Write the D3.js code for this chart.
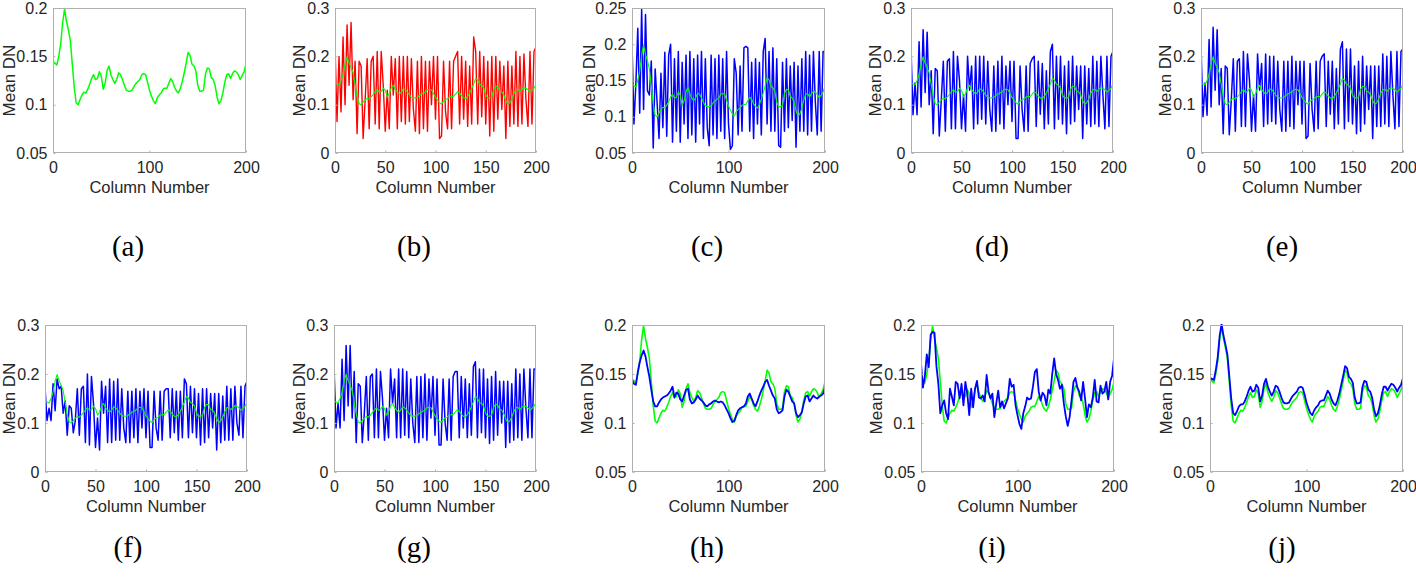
<!DOCTYPE html>
<html><head><meta charset="utf-8">
<script src="https://cdn.jsdelivr.net/npm/d3@7"></script>
<style>body{margin:0;background:#fff}svg{display:block}</style>
</head><body><svg id="c" width="1416" height="585"></svg>
<script>
// ---- data: values sampled every 2 columns (columns 0..200) ----
const greenRef = [0.145,0.143,0.141,0.150,0.163,0.185,0.199,0.186,0.177,0.166,0.142,0.118,0.102,0.100,0.105,0.110,0.113,0.112,0.116,0.121,0.127,0.131,0.126,0.127,0.134,0.130,0.116,0.122,0.135,0.140,0.131,0.126,0.122,0.126,0.133,0.131,0.126,0.120,0.115,0.114,0.114,0.115,0.119,0.122,0.124,0.126,0.131,0.132,0.131,0.123,0.115,0.109,0.104,0.101,0.107,0.110,0.112,0.116,0.117,0.117,0.122,0.127,0.124,0.118,0.114,0.112,0.117,0.124,0.133,0.143,0.154,0.151,0.142,0.140,0.135,0.120,0.114,0.114,0.115,0.132,0.138,0.137,0.128,0.126,0.120,0.108,0.101,0.104,0.112,0.123,0.131,0.132,0.127,0.132,0.135,0.134,0.131,0.126,0.130,0.134,0.142];
const redB = [0.225,0.065,0.20,0.085,0.24,0.10,0.265,0.14,0.27,0.11,0.19,0.04,0.19,0.18,0.03,0.11,0.195,0.05,0.19,0.20,0.06,0.21,0.05,0.21,0.14,0.045,0.13,0.05,0.20,0.12,0.195,0.05,0.20,0.065,0.20,0.06,0.20,0.065,0.195,0.09,0.045,0.19,0.04,0.20,0.05,0.19,0.045,0.19,0.10,0.20,0.07,0.20,0.03,0.035,0.19,0.085,0.05,0.19,0.05,0.19,0.20,0.21,0.06,0.20,0.07,0.19,0.055,0.18,0.06,0.24,0.21,0.06,0.21,0.075,0.20,0.06,0.19,0.035,0.20,0.045,0.20,0.07,0.19,0.09,0.18,0.03,0.19,0.055,0.18,0.06,0.21,0.055,0.20,0.06,0.205,0.11,0.055,0.21,0.06,0.21,0.22];
const blueC = [0.202,0.09,0.145,0.222,0.105,0.248,0.11,0.241,0.136,0.13,0.177,0.057,0.166,0.12,0.07,0.16,0.085,0.189,0.073,0.185,0.20,0.065,0.18,0.08,0.19,0.065,0.175,0.09,0.185,0.07,0.19,0.075,0.18,0.065,0.185,0.09,0.19,0.07,0.18,0.085,0.06,0.185,0.075,0.18,0.07,0.185,0.08,0.18,0.07,0.19,0.09,0.055,0.06,0.18,0.16,0.075,0.17,0.08,0.195,0.197,0.195,0.08,0.175,0.07,0.18,0.09,0.175,0.075,0.19,0.208,0.09,0.19,0.08,0.195,0.08,0.18,0.06,0.058,0.175,0.08,0.18,0.085,0.17,0.095,0.175,0.058,0.17,0.08,0.18,0.08,0.19,0.075,0.185,0.08,0.19,0.12,0.075,0.19,0.08,0.19,0.19];
const blueD = [0.215,0.079,0.145,0.079,0.23,0.095,0.255,0.125,0.25,0.10,0.17,0.04,0.175,0.17,0.035,0.11,0.19,0.045,0.19,0.195,0.05,0.21,0.05,0.20,0.15,0.05,0.12,0.045,0.20,0.13,0.18,0.05,0.20,0.06,0.20,0.07,0.20,0.06,0.19,0.09,0.045,0.18,0.045,0.19,0.06,0.20,0.05,0.18,0.10,0.19,0.065,0.19,0.03,0.03,0.18,0.09,0.045,0.18,0.045,0.185,0.195,0.20,0.055,0.19,0.08,0.185,0.05,0.17,0.06,0.21,0.225,0.05,0.20,0.07,0.20,0.06,0.18,0.04,0.19,0.06,0.20,0.065,0.18,0.09,0.18,0.03,0.18,0.06,0.175,0.055,0.20,0.06,0.19,0.055,0.20,0.12,0.05,0.20,0.055,0.20,0.21];
const blueE = [0.22,0.075,0.145,0.078,0.235,0.095,0.26,0.13,0.255,0.10,0.175,0.04,0.18,0.175,0.038,0.11,0.195,0.045,0.19,0.195,0.055,0.21,0.055,0.205,0.15,0.045,0.12,0.045,0.205,0.13,0.185,0.055,0.205,0.06,0.20,0.065,0.20,0.06,0.19,0.09,0.045,0.19,0.045,0.19,0.055,0.20,0.05,0.19,0.10,0.19,0.06,0.19,0.03,0.035,0.185,0.09,0.045,0.19,0.05,0.19,0.20,0.205,0.055,0.19,0.08,0.19,0.05,0.175,0.06,0.215,0.23,0.05,0.215,0.065,0.215,0.06,0.18,0.04,0.19,0.045,0.20,0.06,0.18,0.09,0.18,0.03,0.18,0.055,0.18,0.055,0.205,0.06,0.20,0.055,0.21,0.12,0.05,0.21,0.055,0.21,0.215];
const blueF = [0.173,0.105,0.13,0.105,0.18,0.125,0.19,0.17,0.175,0.12,0.145,0.075,0.135,0.13,0.08,0.105,0.17,0.075,0.17,0.175,0.06,0.20,0.055,0.195,0.14,0.05,0.11,0.045,0.185,0.12,0.175,0.06,0.19,0.06,0.185,0.065,0.19,0.065,0.17,0.09,0.06,0.165,0.06,0.165,0.07,0.17,0.06,0.165,0.09,0.17,0.07,0.165,0.05,0.05,0.165,0.09,0.065,0.165,0.065,0.165,0.17,0.17,0.07,0.17,0.08,0.165,0.065,0.165,0.07,0.19,0.18,0.07,0.175,0.08,0.17,0.07,0.16,0.055,0.17,0.06,0.17,0.07,0.16,0.09,0.16,0.045,0.16,0.06,0.155,0.065,0.175,0.065,0.17,0.065,0.175,0.10,0.075,0.175,0.07,0.175,0.185];
const blueG = [0.215,0.09,0.14,0.09,0.23,0.105,0.258,0.135,0.258,0.11,0.205,0.06,0.18,0.175,0.06,0.12,0.195,0.065,0.195,0.20,0.07,0.21,0.07,0.205,0.15,0.065,0.13,0.07,0.21,0.14,0.19,0.07,0.21,0.07,0.21,0.075,0.205,0.07,0.19,0.10,0.06,0.195,0.06,0.195,0.07,0.20,0.065,0.19,0.11,0.195,0.075,0.19,0.055,0.055,0.19,0.10,0.065,0.19,0.065,0.195,0.205,0.205,0.07,0.195,0.09,0.19,0.07,0.18,0.075,0.215,0.225,0.07,0.21,0.08,0.21,0.07,0.19,0.058,0.195,0.065,0.205,0.075,0.185,0.10,0.185,0.05,0.185,0.06,0.18,0.065,0.21,0.07,0.20,0.065,0.21,0.13,0.07,0.21,0.07,0.21,0.21];
const blueH = [0.144,0.140,0.139,0.152,0.162,0.169,0.174,0.168,0.157,0.147,0.134,0.122,0.117,0.117,0.121,0.124,0.126,0.127,0.128,0.130,0.133,0.137,0.126,0.131,0.130,0.124,0.122,0.128,0.134,0.135,0.124,0.120,0.121,0.124,0.128,0.125,0.123,0.121,0.118,0.117,0.119,0.120,0.122,0.123,0.122,0.121,0.122,0.121,0.118,0.114,0.110,0.105,0.101,0.102,0.108,0.113,0.115,0.116,0.117,0.120,0.127,0.130,0.125,0.120,0.117,0.122,0.128,0.133,0.137,0.142,0.144,0.138,0.133,0.128,0.125,0.114,0.110,0.111,0.113,0.127,0.134,0.132,0.127,0.122,0.120,0.110,0.106,0.108,0.111,0.120,0.127,0.128,0.122,0.125,0.128,0.126,0.125,0.127,0.128,0.130,0.136];
const blueI = [0.161,0.136,0.148,0.170,0.157,0.190,0.193,0.192,0.158,0.140,0.110,0.118,0.123,0.110,0.104,0.135,0.127,0.118,0.142,0.140,0.125,0.140,0.118,0.142,0.130,0.108,0.135,0.116,0.135,0.143,0.126,0.125,0.128,0.122,0.149,0.132,0.125,0.130,0.106,0.120,0.133,0.116,0.122,0.115,0.120,0.125,0.145,0.137,0.139,0.118,0.108,0.099,0.094,0.110,0.117,0.126,0.124,0.125,0.137,0.152,0.155,0.132,0.123,0.131,0.128,0.118,0.134,0.130,0.150,0.166,0.150,0.144,0.135,0.139,0.120,0.107,0.097,0.106,0.123,0.142,0.146,0.136,0.132,0.123,0.142,0.125,0.106,0.119,0.116,0.126,0.144,0.122,0.121,0.138,0.130,0.132,0.142,0.124,0.142,0.148,0.166];
const blueJ = [0.146,0.145,0.144,0.154,0.167,0.189,0.201,0.189,0.180,0.170,0.148,0.125,0.110,0.108,0.112,0.117,0.119,0.119,0.122,0.127,0.133,0.137,0.132,0.133,0.139,0.136,0.122,0.128,0.140,0.145,0.137,0.132,0.128,0.132,0.138,0.137,0.132,0.126,0.121,0.120,0.120,0.121,0.125,0.128,0.130,0.132,0.136,0.137,0.136,0.129,0.121,0.115,0.110,0.108,0.113,0.116,0.118,0.122,0.123,0.123,0.128,0.133,0.130,0.124,0.120,0.118,0.123,0.130,0.139,0.148,0.158,0.156,0.147,0.145,0.141,0.126,0.120,0.120,0.121,0.137,0.143,0.142,0.134,0.132,0.126,0.114,0.107,0.110,0.118,0.129,0.137,0.137,0.133,0.137,0.140,0.139,0.136,0.132,0.136,0.139,0.146];

const colStep = 2;
const xTicks3 = [0,100,200];
const xTicks5 = [0,50,100,150,200];
const yTicksA = [0.05,0.1,0.15,0.2];
const yTicks03 = [0,0.1,0.2,0.3];
const yTicksC = [0.05,0.1,0.15,0.2,0.25];
const captions = ["(a)","(b)","(c)","(d)","(e)","(f)","(g)","(h)","(i)","(j)"];
const xLabel = "Column Number", yLabel = "Mean DN";

const GREEN = "#00ff00", BLUE = "#0000ff", RED = "#ff0000";

// ---- layout ----
const panels = [
 {L:53,  R:246,  T:8,   B:153, yd:[0.05,0.2],  yt:yTicksA,  xt:xTicks3, yl:38, cx:128, cy:247, s:[[greenRef,GREEN,1.5]]},
 {L:335, R:536,  T:8,   B:153, yd:[0,0.3],     yt:yTicks03, xt:xTicks5, yl:30, cx:414, cy:247, s:[[redB,RED,1.4],[greenRef,GREEN,1.1]]},
 {L:632, R:825,  T:8,   B:153, yd:[0.05,0.25], yt:yTicksC,  xt:xTicks3, yl:37, cx:707, cy:247, s:[[blueC,BLUE,1.5],[greenRef,GREEN,1.1]]},
 {L:911, R:1113, T:8,   B:153, yd:[0,0.3],     yt:yTicks03, xt:xTicks5, yl:30, cx:992, cy:247, s:[[blueD,BLUE,1.5],[greenRef,GREEN,1.1]]},
 {L:1201,R:1403, T:8,   B:153, yd:[0,0.3],     yt:yTicks03, xt:xTicks5, yl:30, cx:1282,cy:247, s:[[blueE,BLUE,1.5],[greenRef,GREEN,1.1]]},
 {L:45,  R:247,  T:325, B:472, yd:[0,0.3],     yt:yTicks03, xt:xTicks5, yl:30, cx:128, cy:548, s:[[blueF,BLUE,1.5],[greenRef,GREEN,1.1]]},
 {L:334, R:536,  T:325, B:472, yd:[0,0.3],     yt:yTicks03, xt:xTicks5, yl:29, cx:414, cy:548, s:[[blueG,BLUE,1.5],[greenRef,GREEN,1.1]]},
 {L:632, R:825,  T:325, B:472, yd:[0.05,0.2],  yt:yTicksA,  xt:xTicks3, yl:39, cx:707, cy:548, s:[[greenRef,GREEN,1.6],[blueH,BLUE,1.8]]},
 {L:921, R:1114, T:325, B:472, yd:[0.05,0.2],  yt:yTicksA,  xt:xTicks3, yl:39, cx:992, cy:548, s:[[greenRef,GREEN,1.6],[blueI,BLUE,1.8]]},
 {L:1210,R:1403, T:325, B:472, yd:[0.05,0.2],  yt:yTicksA,  xt:xTicks3, yl:38, cx:1282,cy:548, s:[[greenRef,GREEN,1.6],[blueJ,BLUE,1.8]]}
];

const svg = d3.select("#c");
const FONT = "'Liberation Sans', Arial, sans-serif";
const fmt = v => String(+v.toFixed(2));

panels.forEach((p,i) => {
  const x = d3.scaleLinear().domain([0,200]).range([p.L,p.R]);
  const y = d3.scaleLinear().domain(p.yd).range([p.B,p.T]);
  const g = svg.append("g");
  const clipId = "clip"+i;
  svg.append("clipPath").attr("id",clipId).append("rect")
     .attr("x",p.L).attr("y",p.T-1).attr("width",p.R-p.L).attr("height",p.B-p.T+2);

  const line = d3.line().x((d,k)=>x(k*colStep)).y(d=>y(d));
  const lg = g.append("g").attr("clip-path",`url(#${clipId})`);
  p.s.forEach(([arr,col,w]) => {
    lg.append("path").datum(arr).attr("d",line)
      .attr("fill","none").attr("stroke",col).attr("stroke-width",w)
      .attr("stroke-linejoin","round");
  });

  // box
  g.append("rect").attr("x",p.L+0.5).attr("y",p.T+0.5)
    .attr("width",p.R-p.L-1).attr("height",p.B-p.T-1)
    .attr("fill","none").attr("stroke","#b0b0b0").attr("stroke-width",1);

  // axes (inside ticks)
  const xa = d3.axisBottom(x).tickValues(p.xt).tickSizeInner(-2).tickSizeOuter(0).tickPadding(9).tickFormat(d=>d);
  const ya = d3.axisLeft(y).tickValues(p.yt).tickSizeInner(-2).tickSizeOuter(0).tickPadding(6).tickFormat(fmt);
  const gx = g.append("g").attr("transform",`translate(0,${p.B-0.5})`).call(xa);
  const gy = g.append("g").attr("transform",`translate(${p.L+0.5},0)`).call(ya);
  [gx,gy].forEach(a=>{
    a.select(".domain").remove();
    a.selectAll("line").attr("stroke","#b0b0b0");
    a.selectAll("text").attr("fill","#262626").style("font-family",FONT).style("font-size","16px");
  });

  g.append("text").attr("x",(p.L+p.R)/2).attr("y",p.B+40)
    .attr("text-anchor","middle").attr("fill","#262626")
    .style("font-family",FONT).style("font-size","16.5px").text(xLabel);
  g.append("text").attr("transform",`translate(${p.L-p.yl},${(p.T+p.B)/2}) rotate(-90)`)
    .attr("text-anchor","middle").attr("fill","#262626")
    .style("font-family",FONT).style("font-size","17px").text(yLabel);

  g.append("text").attr("x",p.cx).attr("y",p.cy+9)
    .attr("text-anchor","middle").attr("fill","#000")
    .style("font-family","'Liberation Serif', 'DejaVu Serif', serif").style("font-size","29px").text(captions[i]);
});
</script></body></html>
